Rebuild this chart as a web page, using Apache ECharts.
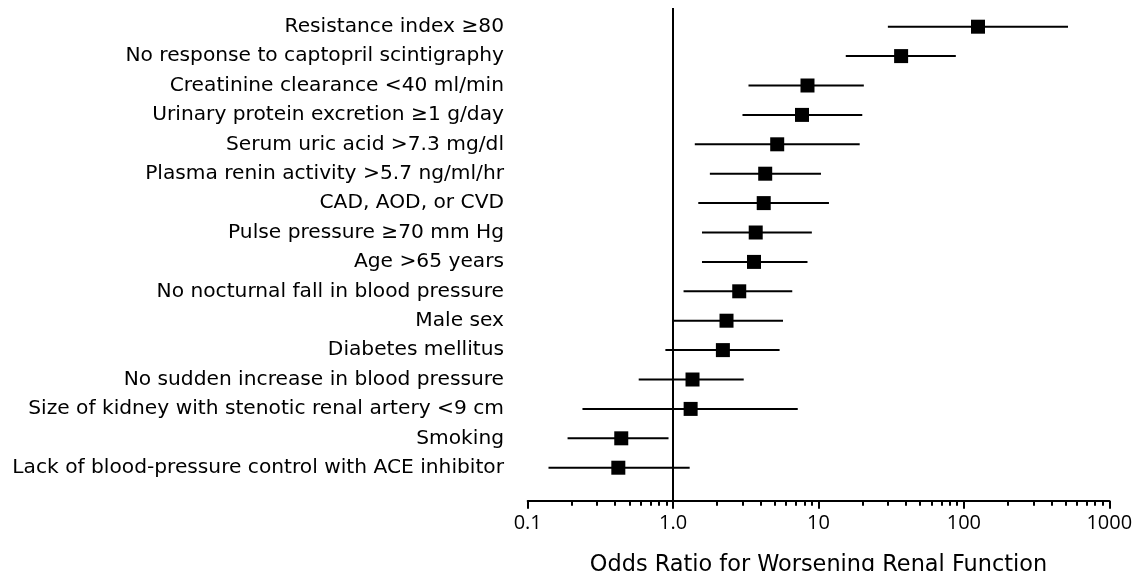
<!DOCTYPE html>
<html>
<head>
<meta charset="utf-8">
<script src="https://cdn.jsdelivr.net/npm/echarts@6/dist/echarts.min.js"></script>
<style>
html,body{margin:0;padding:0;background:#fff;}
#chart{width:1136px;height:571px;}
</style>
</head>
<body>
<div id="chart"></div>
<script>
const categories = [
  'Resistance index \u226580',
  'No response to captopril scintigraphy',
  'Creatinine clearance <40 ml/min',
  'Urinary protein excretion \u22651 g/day',
  'Serum uric acid >7.3 mg/dl',
  'Plasma renin activity >5.7 ng/ml/hr',
  'CAD, AOD, or CVD',
  'Pulse pressure \u226570 mm Hg',
  'Age >65 years',
  'No nocturnal fall in blood pressure',
  'Male sex',
  'Diabetes mellitus',
  'No sudden increase in blood pressure',
  'Size of kidney with stenotic renal artery <9 cm',
  'Smoking',
  'Lack of blood-pressure control with ACE inhibitor'
];
const oddsRatio = [125, 37, 8.4, 7.7, 5.2, 4.3, 4.2, 3.7, 3.6, 2.85, 2.33, 2.2, 1.36, 1.32, 0.44, 0.42];
const ciLower   = [30, 15.4, 3.3, 3.0, 1.41, 1.79, 1.49, 1.58, 1.58, 1.18, 1.01, 0.885, 0.58, 0.238, 0.188, 0.139];
const ciUpper   = [520, 88, 20.5, 20, 19.2, 10.4, 11.8, 9.0, 8.4, 6.6, 5.7, 5.4, 3.06, 7.2, 0.93, 1.3];
const tickLabels = {'0.1': '0.1', '1': '1.0', '10': '10', '100': '100', '1000': '1000'};
const referenceOR = 1;
const axisTitle = 'Odds Ratio for Worsening Renal Function';

const rowIndex = categories.map((c, i) => i + 1);
const minorTicks = [];
[0.1, 1, 10, 100].forEach(d => { for (let k = 2; k <= 9; k++) minorTicks.push(+(d * k).toPrecision(6)); });

const data = categories.map((c, i) => [ciLower[i], ciUpper[i], oddsRatio[i], rowIndex[i]]);

function fmtTick(v) {
  const key = String(+Number(v).toPrecision(6));
  return tickLabels[key] !== undefined ? tickLabels[key] : '';
}

const chart = echarts.init(document.getElementById('chart'), null, {renderer: 'canvas'});
chart.setOption({
  animation: false,
  backgroundColor: '#fff',
  grid: {left: 527.7, right: 26.7, top: 8, bottom: 70.3, containLabel: false, outerBoundsMode: 'none'},
  xAxis: [{
    type: 'log', logBase: 10, min: 0.1, max: 1000, position: 'bottom',
    axisLine: {show: true, lineStyle: {color: '#000', width: 2}},
    axisTick: {show: true, length: 8, lineStyle: {color: '#000', width: 2}},
    axisLabel: {show: true, margin: 13, fontFamily: 'Open Sans', fontSize: 20, color: '#000', formatter: fmtTick},
    splitLine: {show: false},
    name: axisTitle, nameLocation: 'middle', nameGap: 53,
    nameTextStyle: {fontFamily: 'DejaVu Sans', fontSize: 22.4, color: '#000'}
  }, {
    type: 'log', logBase: 10, min: 0.1, max: 1000, position: 'bottom', gridIndex: 0,
    axisLine: {show: false},
    axisTick: {show: true, length: 5, customValues: minorTicks, lineStyle: {color: '#000', width: 2}},
    axisLabel: {show: false},
    splitLine: {show: false}
  }],
  yAxis: {
    type: 'value', inverse: true, min: 0.364, max: 17.122,
    axisLine: {show: false}, axisTick: {show: false}, splitLine: {show: false},
    axisLabel: {
      show: true, customValues: rowIndex, margin: 23.7,
      fontFamily: 'DejaVu Sans', fontSize: 20.2, color: '#000',
      formatter: v => categories[Math.round(v) - 1] || ''
    }
  },
  series: [{
    type: 'custom',
    xAxisIndex: 0, yAxisIndex: 0,
    data: data,
    encode: {x: [0, 1, 2], y: 3},
    renderItem: function (params, api) {
      const y = api.value(3);
      const p0 = api.coord([api.value(0), y]);
      const p1 = api.coord([api.value(1), y]);
      const pc = api.coord([api.value(2), y]);
      const s = 14;
      return {
        type: 'group',
        children: [
          {type: 'line', shape: {x1: p0[0], y1: p0[1], x2: p1[0], y2: p1[1]}, style: {stroke: '#000', lineWidth: 2}},
          {type: 'rect', shape: {x: pc[0] - s / 2, y: pc[1] - s / 2, width: s, height: s}, style: {fill: '#000'}}
        ]
      };
    },
    markLine: {
      silent: true, symbol: 'none', label: {show: false},
      lineStyle: {color: '#000', width: 2, type: 'solid'},
      data: [{xAxis: referenceOR}]
    }
  }]
});
</script>
</body>
</html>
